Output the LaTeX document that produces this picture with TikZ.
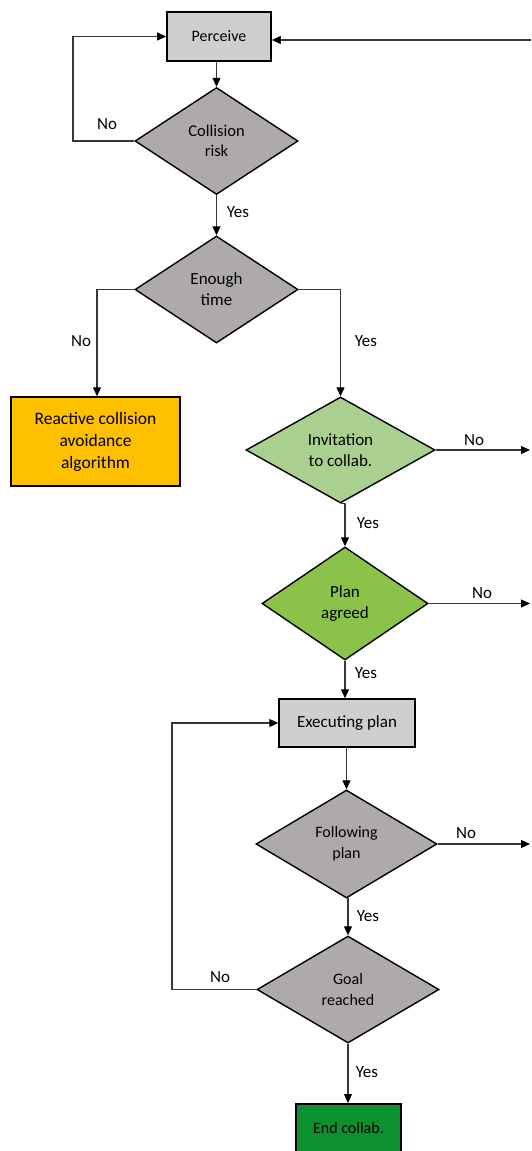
\documentclass[tikz,border=0pt]{standalone}
\usepackage{fontspec}
\setmainfont{Carlito}
\usetikzlibrary{shapes.geometric,arrows.meta}
\definecolor{boxgray}{HTML}{D0CECE}
\definecolor{decgray}{HTML}{AEAAAA}
\definecolor{orangefill}{HTML}{FFC000}
\definecolor{lightgreen}{HTML}{A9D08E}
\definecolor{midgreen}{RGB}{139,195,74}
\definecolor{darkgreen}{RGB}{12,145,48}
\definecolor{linegray}{RGB}{55,55,55}
\tikzset{
  stepbox/.style={draw=black, line width=1.8pt, fill=boxgray, rectangle, inner sep=0pt,
    align=center, font=\fontsize{16}{20}\selectfont},
  decision/.style={draw=black, line width=1.4pt, fill=decgray, diamond, inner sep=0pt,
    minimum width=163pt, minimum height=107pt, align=center,
    font=\fontsize{17}{21}\selectfont},
  conn/.style={draw=linegray, line width=1.1pt,
    -{Triangle[length=9pt,width=8pt,color=black]}},
  lbl/.style={font=\fontsize{17}{20}\selectfont, inner sep=0pt}
}
\begin{document}
\begin{tikzpicture}[x=1pt,y=-1pt]
  \useasboundingbox (0,0) rectangle (531,1151);

  % process boxes
  \node[stepbox, minimum width=104pt, minimum height=49pt] (perceive) at (219,36.5) {Perceive};
  \node[stepbox, fill=orangefill, line width=1.5pt, minimum width=169pt, minimum height=89pt,
        font=\fontsize{17.5}{22}\selectfont] (reactive) at (95.5,441.5)
        {Reactive collision\\avoidance\\algorithm};
  \node[stepbox, line width=1.5pt, minimum width=136pt, minimum height=48pt,
        font=\fontsize{17}{20}\selectfont] (exec) at (347,723) {Executing plan};
  \node[stepbox, fill=darkgreen, line width=1.5pt, minimum width=105pt, minimum height=54pt,
        anchor=north] (endc) at (348.5,1103) {};
  \node[font=\fontsize{16}{20}\selectfont] (endtxt) at (348.5,1128) {End collab.};

  % decisions
  \node[decision, font=\fontsize{16.5}{20}\selectfont] (risk) at (216.5,141) {Collision\\risk};
  \node[decision] (time) at (216.5,289.5) {Enough\\time};
  \node[decision, fill=lightgreen, minimum width=189pt, minimum height=106pt] (invite) at (340.5,450) {Invitation\\to collab.};
  \node[decision, fill=midgreen, minimum width=166pt, minimum height=113pt] (agreed) at (345,603.5) {Plan\\agreed};
  \node[decision, minimum width=181pt, minimum height=108pt, font=\fontsize{16}{21}\selectfont] (follow) at (346.5,844) {Following\\plan};
  \node[decision, minimum width=182pt, minimum height=107pt, font=\fontsize{16}{21}\selectfont] (goal) at (348,989.5) {Goal\\reached};

  % free ends at the right edge
  \coordinate (feed) at (531,40);
  \coordinate (outA) at (530,450);
  \coordinate (outB) at (530,603.5);
  \coordinate (outC) at (530,844);

  % connectors
  \draw[conn] (perceive.south -| risk.north) -- (risk.north);
  \draw[conn] (risk.west) -- (73,141) |- (perceive.west);
  \draw[conn] (feed) -- (feed -| perceive.east);
  \draw[conn] (risk.south) -- (time.north);
  \draw[conn] (time.west) -| (reactive.north -| 97,0);
  \draw[conn] (time.east) -| (invite.north);
  \draw[conn] (invite.east) -- (outA);
  \draw[conn] (invite.south) -- (invite.south -| agreed.north) -- (agreed.north);
  \draw[conn] (agreed.east) -- (outB);
  \draw[conn] (agreed.south) -- (agreed.south |- exec.north);
  \draw[conn] (exec.south -| follow.north) -- (follow.north);
  \draw[conn] (follow.east) -- (outC);
  \draw[conn] (follow.south) -- (follow.south -| goal.north) -- (goal.north);
  \draw[conn] (goal.west) -- (172,989.5) |- (exec.west);
  \draw[conn] (goal.south) -- (goal.south |- endc.north);

  % branch labels
  \node[lbl] (l1) at (107,124) {No};
  \node[lbl] (l2) at (238,212) {Yes};
  \node[lbl] (l3) at (81,341) {No};
  \node[lbl] (l4) at (366,341) {Yes};
  \node[lbl] (l5) at (474,440) {No};
  \node[lbl] (l6) at (368,523) {Yes};
  \node[lbl] (l7) at (482,593) {No};
  \node[lbl] (l8) at (366,673) {Yes};
  \node[lbl] (l9) at (466,833) {No};
  \node[lbl] (l10) at (368,916) {Yes};
  \node[lbl] (l11) at (220,977) {No};
  \node[lbl] (l12) at (367,1072) {Yes};
\end{tikzpicture}
\end{document}
